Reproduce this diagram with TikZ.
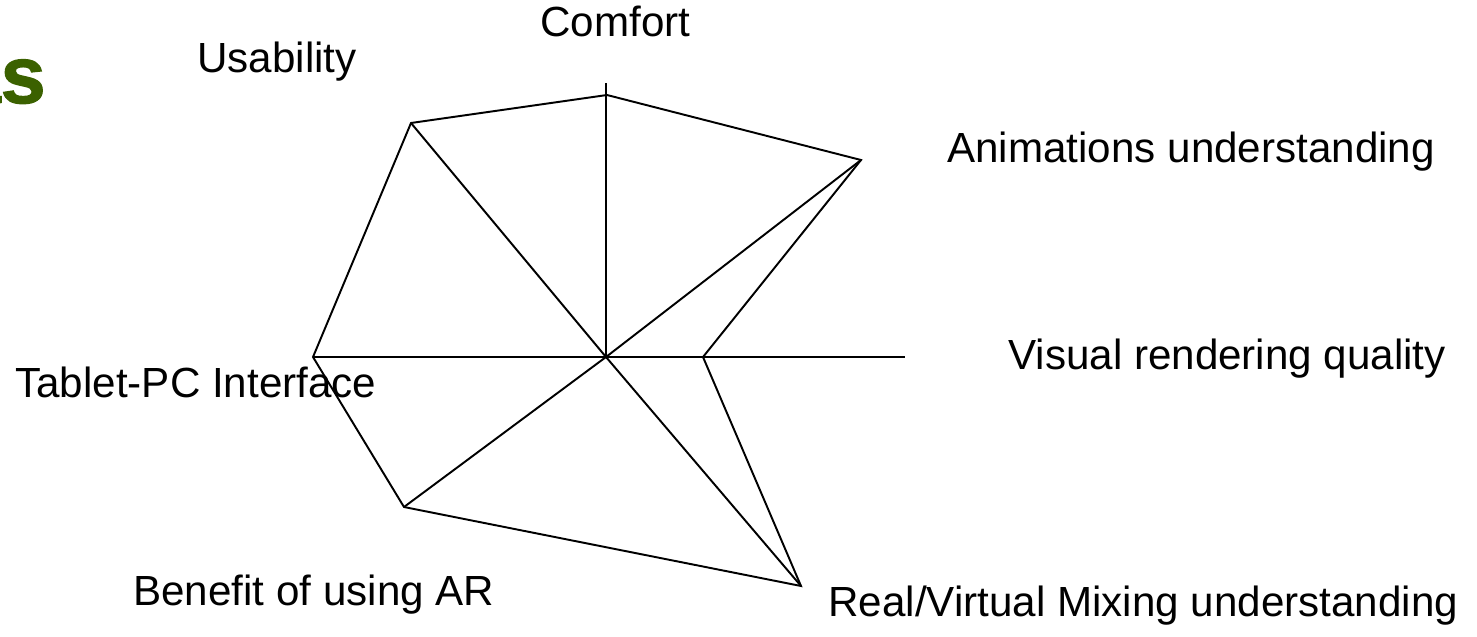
\documentclass[tikz,border=0pt]{standalone}
\usepackage{fontspec}
\setmainfont{Liberation Sans}
\newfontfamily\titlefont[BoldFeatures={FakeBold=1.5}]{Liberation Sans}
\usepackage{tikz}
\usetikzlibrary{calc}
\definecolor{titlegreen}{RGB}{59,97,0}
\tikzset{axislabel/.style={font=\fontsize{24}{29}\selectfont, anchor=base west, inner sep=0pt},
	radar/.style={line width=1.1pt, line join=miter}}

\begin{document}
\begin{tikzpicture}[x=0.02cm, y=-0.02cm]
	\useasboundingbox (0,0) rectangle (1477,636);
	
	% titre coupe
	\node[anchor=base east, inner sep=0pt, text=titlegreen, font=\fontsize{46}{50}\titlefont\bfseries] (titre) at (46,103) {as};
	
	%main points
	\coordinate (o) at (606,357);
	\coordinate (com) at (607,95);
	\coordinate (ani) at (861,160);
	\coordinate (vis) at (703,357);
	\coordinate (rea) at (801,586);
	\coordinate (ben) at (404,507);
	\coordinate (tab) at (313,357);
	\coordinate (usa) at (411,123);
	
	% bouts des axes
	\coordinate (top) at (606,83);
	\coordinate (right) at (905,357);
	
	% axes
	\draw[radar] (o) -- (top);
	\draw[radar] (o) -- (right);
	\foreach \p in {usa, ani, rea, ben, tab}
		\draw[radar] (o) -- (\p);
	
	% polygone
	\draw[radar] (com) -- (ani) -- (vis) -- (rea) -- (ben) -- (tab) -- (usa) -- cycle;
	
	% labels
	\node[axislabel] (lcom) at (540,36) {Comfort};
	\node[axislabel] (lusa) at (197,72) {Usability};
	\node[axislabel] (lani) at (947,162) {Animations understanding};
	\node[axislabel] (lvis) at (1008,369) {Visual rendering quality};
	\node[axislabel] (ltab) at (15,397) {Tablet-PC Interface};
	\node[axislabel] (lben) at (133,605) {Benefit of using AR};
	\node[axislabel] (lrea) at (828,616) {Real/Virtual Mixing understanding};
	
\end{tikzpicture}
\end{document}
